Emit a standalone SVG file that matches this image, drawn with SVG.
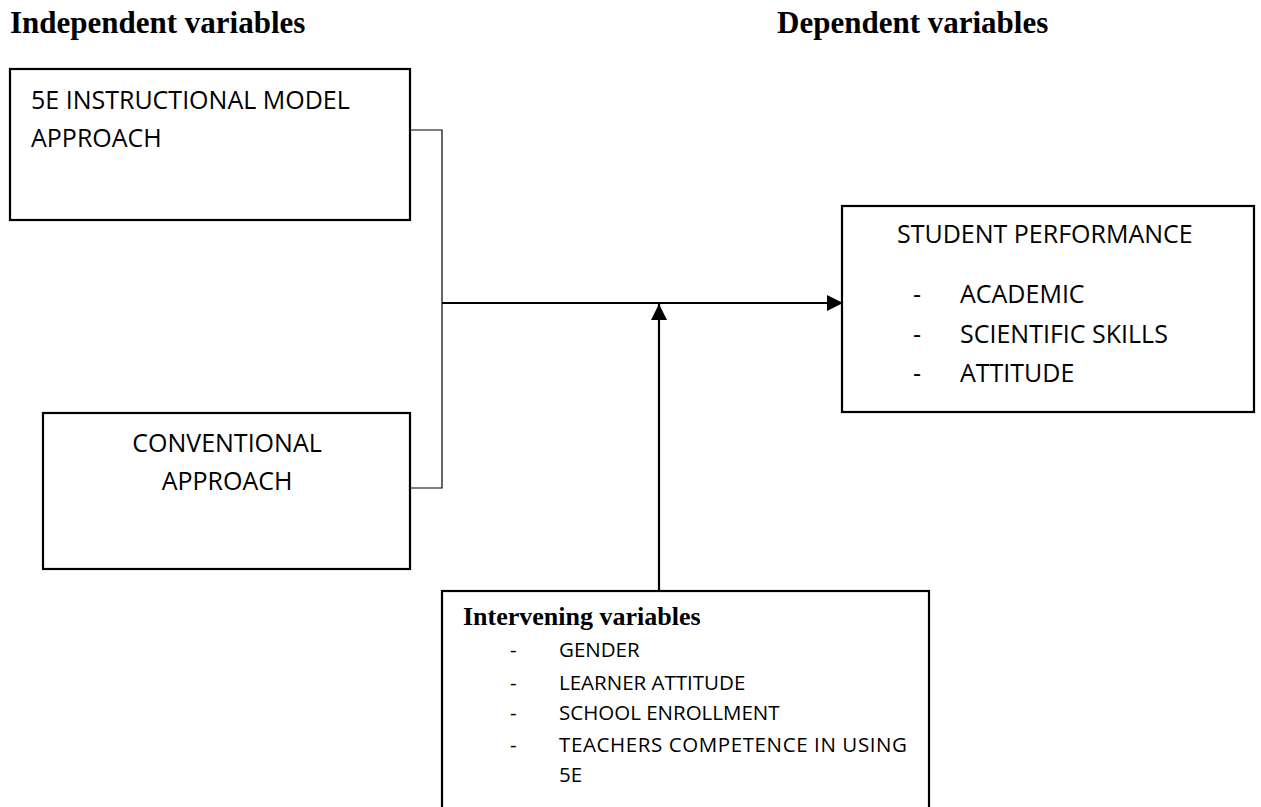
<svg xmlns="http://www.w3.org/2000/svg" width="1261" height="807" viewBox="0 0 1261 807">
<style>
.box{fill:#fff;stroke:#000;stroke-width:2.2}
.hdr{font-family:"Liberation Serif","Times New Roman",serif;font-weight:bold;font-size:31px;fill:#000}
.ihdr{font-family:"Liberation Serif","Times New Roman",serif;font-weight:bold;font-size:26px;fill:#000}
.t{font-family:"Open Sans","Liberation Sans",sans-serif;font-size:25px;fill:#000}
.s{font-family:"Open Sans","Liberation Sans",sans-serif;font-size:20.5px;fill:#000}
.thin{fill:none;stroke:#000;stroke-width:1.2}
.arr{fill:none;stroke:#000;stroke-width:2.2}
</style>
<defs>
<marker id="ah" viewBox="0 0 10 10" refX="10" refY="5" markerWidth="16" markerHeight="16" markerUnits="userSpaceOnUse" orient="auto">
<path d="M0,0 L10,5 L0,10 z" fill="#000"/>
</marker>
</defs>
<rect width="1261" height="807" fill="#fff"/>
<text class="hdr" x="10" y="33">Independent variables</text>
<text class="hdr" x="777" y="33">Dependent variables</text>
<g id="connectors">
<path class="thin" d="M411,130 H442 V488 H411"/>
<line class="arr" x1="442" y1="303" x2="843" y2="303" marker-end="url(#ah)"/>
<line class="arr" x1="659" y1="591" x2="659" y2="304" marker-end="url(#ah)"/>
</g>
<g id="node-5e">
<rect class="box" x="10" y="69" width="400" height="151"/>
<text class="t" x="31" y="109">5E INSTRUCTIONAL MODEL</text>
<text class="t" x="31" y="147">APPROACH</text>
</g>
<g id="node-conventional">
<rect class="box" x="43" y="413" width="367" height="156"/>
<text class="t" x="227" y="452" text-anchor="middle">CONVENTIONAL</text>
<text class="t" x="227" y="490" text-anchor="middle">APPROACH</text>
</g>
<g id="node-student">
<rect class="box" x="842" y="206" width="412" height="206"/>
<text class="t" x="897" y="243">STUDENT PERFORMANCE</text>
<text class="t" x="913" y="303">-</text>
<text class="t" x="960" y="303">ACADEMIC</text>
<text class="t" x="913" y="343">-</text>
<text class="t" x="960" y="343">SCIENTIFIC SKILLS</text>
<text class="t" x="913" y="382">-</text>
<text class="t" x="960" y="382">ATTITUDE</text>
</g>
<g id="node-intervening">
<rect class="box" x="442" y="591" width="487" height="230"/>
<text class="ihdr" x="463" y="625">Intervening variables</text>
<text class="s" x="510" y="657">-</text>
<text class="s" x="559" y="657">GENDER</text>
<text class="s" x="510" y="690">-</text>
<text class="s" x="559" y="690">LEARNER ATTITUDE</text>
<text class="s" x="510" y="720">-</text>
<text class="s" x="559" y="720">SCHOOL ENROLLMENT</text>
<text class="s" x="510" y="752">-</text>
<text class="s" x="559" y="752" textLength="348" lengthAdjust="spacing">TEACHERS COMPETENCE IN USING</text>
<text class="s" x="559" y="782">5E</text>
</g>
</svg>
